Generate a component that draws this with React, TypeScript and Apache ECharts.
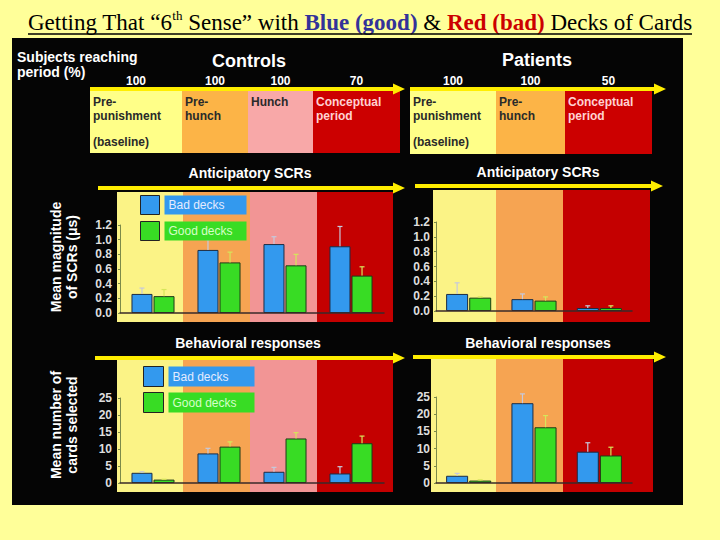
import React, { useEffect, useRef } from 'react';
import * as echarts from 'echarts';

// ---------- data ----------
const periodsControls = ['Pre-punishment', 'Pre-hunch', 'Hunch', 'Conceptual period'];
const periodsPatients = ['Pre-punishment', 'Pre-hunch', 'Conceptual period'];
const reachedControls = [100, 100, 100, 70];
const reachedPatients = [100, 100, 50];
const deckNames = ['Bad decks', 'Good decks'];

const scrControlsBad = [0.26, 0.86, 0.94, 0.91];
const scrControlsBadErr = [0.34, 1.0, 1.04, 1.18];
const scrControlsGood = [0.23, 0.69, 0.65, 0.51];
const scrControlsGoodErr = [0.32, 0.83, 0.8, 0.63];

const scrPatientsBad = [0.23, 0.16, 0.04];
const scrPatientsBadErr = [0.38, 0.23, 0.07];
const scrPatientsGood = [0.18, 0.14, 0.04];
const scrPatientsGoodErr = [0.19, 0.19, 0.07];

const behControlsBad = [3.0, 8.7, 3.3, 2.8];
const behControlsBadErr = [3.3, 10.2, 4.6, 4.8];
const behControlsGood = [1.0, 10.7, 13.1, 11.7];
const behControlsGoodErr = [1.1, 12.1, 14.8, 13.8];

const behPatientsBad = [2.1, 23.2, 9.1];
const behPatientsBadErr = [2.8, 25.9, 11.7];
const behPatientsGood = [0.7, 16.2, 8.0];
const behPatientsGoodErr = [0.9, 19.6, 10.4];

const scrAxis = { max: 1.2, interval: 0.2 };
const behAxis = { max: 25, interval: 5 };

// ---------- styles / layout ----------
const SANS = 'Liberation Sans, Arial, sans-serif';
const SERIF = 'Liberation Serif, Times New Roman, serif';
const BLUE = '#3399ee';
const GREEN = '#38dc24';
const YELLOW_ARROW = '#ffee00';
const headerColors: Record<string, string> = {
  'Pre-punishment': '#ffff88',
  'Pre-hunch': '#fcb447',
  Hunch: '#f8a8a8',
  'Conceptual period': '#cc0000',
};
const bandColors: Record<string, string> = {
  'Pre-punishment': '#fbf386',
  'Pre-hunch': '#f6a452',
  Hunch: '#f29595',
  'Conceptual period': '#c40000',
};

const headerCtrlEdges = [90, 182, 248, 313, 400];
const headerPatEdges = [410, 496, 565, 652];

const panels = [
  {
    cats: periodsControls, bad: scrControlsBad, badErr: scrControlsBadErr, good: scrControlsGood, goodErr: scrControlsGoodErr,
    axis: scrAxis, decimals: 1, grid: { left: 120, top: 225, width: 264, height: 88 },
    bandEdges: [117, 183, 250, 317, 393], bandTop: 192, bandBottom: 322, barWidth: 21, labelMargin: 8,
  },
  {
    cats: periodsPatients, bad: scrPatientsBad, badErr: scrPatientsBadErr, good: scrPatientsGood, goodErr: scrPatientsGoodErr,
    axis: scrAxis, decimals: 1, grid: { left: 436, top: 222, width: 196, height: 89 },
    bandEdges: [433, 496, 563, 650], bandTop: 190, bandBottom: 322, barWidth: 22, labelMargin: 6,
  },
  {
    cats: periodsControls, bad: behControlsBad, badErr: behControlsBadErr, good: behControlsGood, goodErr: behControlsGoodErr,
    axis: behAxis, decimals: 0, grid: { left: 120, top: 398, width: 264, height: 85 },
    bandEdges: [117, 183, 250, 317, 393], bandTop: 360, bandBottom: 492, barWidth: 21, labelMargin: 8,
  },
  {
    cats: periodsPatients, bad: behPatientsBad, badErr: behPatientsBadErr, good: behPatientsGood, goodErr: behPatientsGoodErr,
    axis: behAxis, decimals: 0, grid: { left: 436, top: 397, width: 196, height: 86 },
    bandEdges: [431, 496, 563, 653], bandTop: 358, bandBottom: 492, barWidth: 22, labelMargin: 6,
  },
];

function txt(text: string, x: number, y: number, o: any = {}) {
  return {
    type: 'text',
    x,
    y,
    z: 10,
    rotation: o.rotation || 0,
    style: {
      text,
      fill: o.fill || '#ffffff',
      fontFamily: o.fontFamily || SANS,
      fontSize: o.fontSize || 12,
      fontWeight: o.fontWeight || 'bold',
      align: o.align || 'left',
      textAlign: o.align || 'left',
      verticalAlign: o.va || 'middle',
      textVerticalAlign: o.va || 'middle',
      lineHeight: o.lineHeight,
    },
  };
}

function arrow(x1: number, x2: number, y: number) {
  return [
    { type: 'line', z: 9, shape: { x1, y1: y, x2: x2 - 8, y2: y }, style: { stroke: YELLOW_ARROW, lineWidth: 4 } },
    { type: 'polygon', z: 9, shape: { points: [[x2 - 12, y - 5.5], [x2, y], [x2 - 12, y + 5.5]] }, style: { fill: YELLOW_ARROW } },
  ];
}

function periodLabel(name: string) {
  return name.replace('-', '-\n').replace(' ', '\n');
}

function header(cats: string[], pct: number[], edges: number[], top: number, bottom: number) {
  const els: any[] = [];
  cats.forEach((c, i) => {
    els.push({
      type: 'rect', z: -1,
      shape: { x: edges[i], y: top, width: edges[i + 1] - edges[i], height: bottom - top },
      style: { fill: headerColors[c] },
    });
    const fill = c === 'Conceptual period' ? '#ffd2d2' : '#2a2a2a';
    els.push(txt(periodLabel(c), edges[i] + 3, top + 4, { fill, va: 'top', lineHeight: 14, fontSize: 12 }));
    if (i === 0) els.push(txt('(baseline)', edges[i] + 3, top + 45, { fill, va: 'top', fontSize: 12 }));
    els.push(txt(String(pct[i]), (edges[i] + edges[i + 1]) / 2, 81, { align: 'center', fontSize: 12 }));
  });
  return els;
}

function bands(p: any) {
  return p.cats.map((c: string, i: number) => ({
    type: 'rect', z: -1,
    shape: { x: p.bandEdges[i], y: p.bandTop, width: p.bandEdges[i + 1] - p.bandEdges[i], height: p.bandBottom - p.bandTop },
    style: { fill: bandColors[c] },
  }));
}

function errRender(offset: number, color: string) {
  return (params: any, api: any) => {
    const i = api.value(0);
    const top = api.coord([i, api.value(1)]);
    const base = api.coord([i, api.value(2)]);
    const x = top[0] + offset;
    return {
      type: 'group',
      children: [
        { type: 'line', shape: { x1: x, y1: base[1], x2: x, y2: top[1] }, style: { stroke: color, lineWidth: 1.2 } },
        { type: 'line', shape: { x1: x - 2.5, y1: top[1], x2: x + 2.5, y2: top[1] }, style: { stroke: color, lineWidth: 1.2 } },
      ],
    };
  };
}

function legendFor(left: number, top: number, size: number, boxW: number, gap: number) {
  const mk = (name: string, bg: string, fg: string) => ({
    name,
    itemStyle: { borderColor: '#222', borderWidth: 1 },
    textStyle: {
      color: fg, backgroundColor: bg, fontSize: 12, fontFamily: SANS, width: boxW - 8,
      padding: [3, 4, 3, 4], lineHeight: size - 6,
    },
  });
  return {
    left, top, orient: 'vertical', icon: 'rect', itemWidth: size, itemHeight: size, itemGap: gap,
    padding: 0, selectedMode: false, z: 8,
    data: [mk(deckNames[0], BLUE, '#e4ebff'), mk(deckNames[1], GREEN, '#d6ffc8')],
  };
}

export default function App() {
  const ref = useRef<HTMLDivElement>(null);
  useEffect(() => {
    if (!ref.current) return;
    const chart = echarts.init(ref.current, undefined, { renderer: 'svg' });

    const grids = panels.map((p) => ({ ...p.grid, containLabel: false }));
    const xAxes = panels.map((p, i) => ({
      type: 'category', gridIndex: i, data: p.cats, z: 5,
      axisLabel: { show: false }, axisTick: { show: false },
      axisLine: { show: true, lineStyle: { color: '#3a2a2a', width: 1.5 } },
    }));
    const yAxes = panels.map((p, i) => ({
      type: 'value', gridIndex: i, min: 0, max: p.axis.max, interval: p.axis.interval, z: 5,
      splitLine: { show: false },
      axisLine: { show: true, lineStyle: { color: '#7c8a4a', width: 1 } },
      axisTick: { show: true, length: 2, lineStyle: { color: '#7c8a4a' } },
      axisLabel: {
        color: '#dedede', fontSize: 12, fontWeight: 'bold', fontFamily: SANS, margin: p.labelMargin,
        formatter: (v: number) => v.toFixed(p.decimals),
      },
    }));
    const series: any[] = [];
    panels.forEach((p, i) => {
      const off = (p.barWidth * 1.05) / 2;
      series.push({
        type: 'bar', name: deckNames[0], xAxisIndex: i, yAxisIndex: i, data: p.bad, barWidth: p.barWidth, barGap: '5%',
        itemStyle: { color: BLUE, borderColor: '#1c2c44', borderWidth: 1 },
      });
      series.push({
        type: 'bar', name: deckNames[1], xAxisIndex: i, yAxisIndex: i, data: p.good, barWidth: p.barWidth, barGap: '5%',
        itemStyle: { color: GREEN, borderColor: '#1e3a18', borderWidth: 1 },
      });
      series.push({
        type: 'custom', name: deckNames[0] + ' error', xAxisIndex: i, yAxisIndex: i, z: 3,
        data: p.badErr.map((e, j) => [j, e, p.bad[j]]), encode: { x: 0, y: 1 },
        renderItem: errRender(-off, '#c6c9dc'),
      });
      series.push({
        type: 'custom', name: deckNames[1] + ' error', xAxisIndex: i, yAxisIndex: i, z: 3,
        data: p.goodErr.map((e, j) => [j, e, p.good[j]]), encode: { x: 0, y: 1 },
        renderItem: errRender(off, '#d6e65a'),
      });
    });

    const elements: any[] = [
      { type: 'rect', z: -2, shape: { x: 12, y: 38, width: 671, height: 467 }, style: { fill: '#050505' } },
      {
        type: 'text', x: 28, y: 22, z: 10,
        style: {
          text: '{n|Getting That “6}{s|th}{n| Sense” with }{b|Blue (good)}{n| & }{r|Red (bad)}{n| Decks of Cards}',
          verticalAlign: 'middle', textVerticalAlign: 'middle',
          rich: {
            n: { fontFamily: SERIF, fontSize: 23, fill: '#000', color: '#000', lineHeight: 26 },
            s: { fontFamily: SERIF, fontSize: 13, fill: '#000', color: '#000', lineHeight: 13, verticalAlign: 'top' },
            b: { fontFamily: SERIF, fontSize: 23, fontWeight: 'bold', fill: '#333399', color: '#333399', lineHeight: 26 },
            r: { fontFamily: SERIF, fontSize: 23, fontWeight: 'bold', fill: '#cc0000', color: '#cc0000', lineHeight: 26 },
          },
        },
      },
      { type: 'line', z: 10, shape: { x1: 28, y1: 34, x2: 692, y2: 34 }, style: { stroke: '#000', lineWidth: 1.5 } },
      txt('Subjects reaching\nperiod (%)', 17, 64, { fontSize: 14, lineHeight: 15 }),
      txt('Controls', 249, 61, { fontSize: 18, align: 'center' }),
      txt('Patients', 537, 60, { fontSize: 18, align: 'center' }),
      ...header(periodsControls, reachedControls, headerCtrlEdges, 91, 153),
      ...header(periodsPatients, reachedPatients, headerPatEdges, 91, 154),
      ...arrow(90, 405, 89),
      ...arrow(410, 666, 89),
      txt('Anticipatory SCRs', 250, 173, { fontSize: 14, align: 'center' }),
      txt('Anticipatory SCRs', 538, 172, { fontSize: 14, align: 'center' }),
      txt('Behavioral responses', 248, 343, { fontSize: 14, align: 'center' }),
      txt('Behavioral responses', 538, 343, { fontSize: 14, align: 'center' }),
      ...arrow(98, 405, 188),
      ...arrow(415, 663, 186),
      ...arrow(95, 405, 358),
      ...arrow(413, 666, 357),
      txt('Mean magnitude\nof SCRs (μs)', 64, 257, { fontSize: 14, lineHeight: 16, align: 'center', rotation: Math.PI / 2 }),
      txt('Mean number of\ncards selected', 64, 425, { fontSize: 14, lineHeight: 16, align: 'center', rotation: Math.PI / 2 }),
      ...panels.flatMap((p) => bands(p)),
    ];

    chart.setOption({
      animation: false,
      backgroundColor: '#ffff99',
      grid: grids,
      xAxis: xAxes,
      yAxis: yAxes,
      legend: [legendFor(140, 195, 19, 82, 6), legendFor(143, 366, 20, 86, 5)],
      series,
      graphic: { elements },
    });
    return () => chart.dispose();
  }, []);
  return <div ref={ref} style={{ position: 'fixed', left: 0, top: 0, width: 720, height: 540 }} />;
}
